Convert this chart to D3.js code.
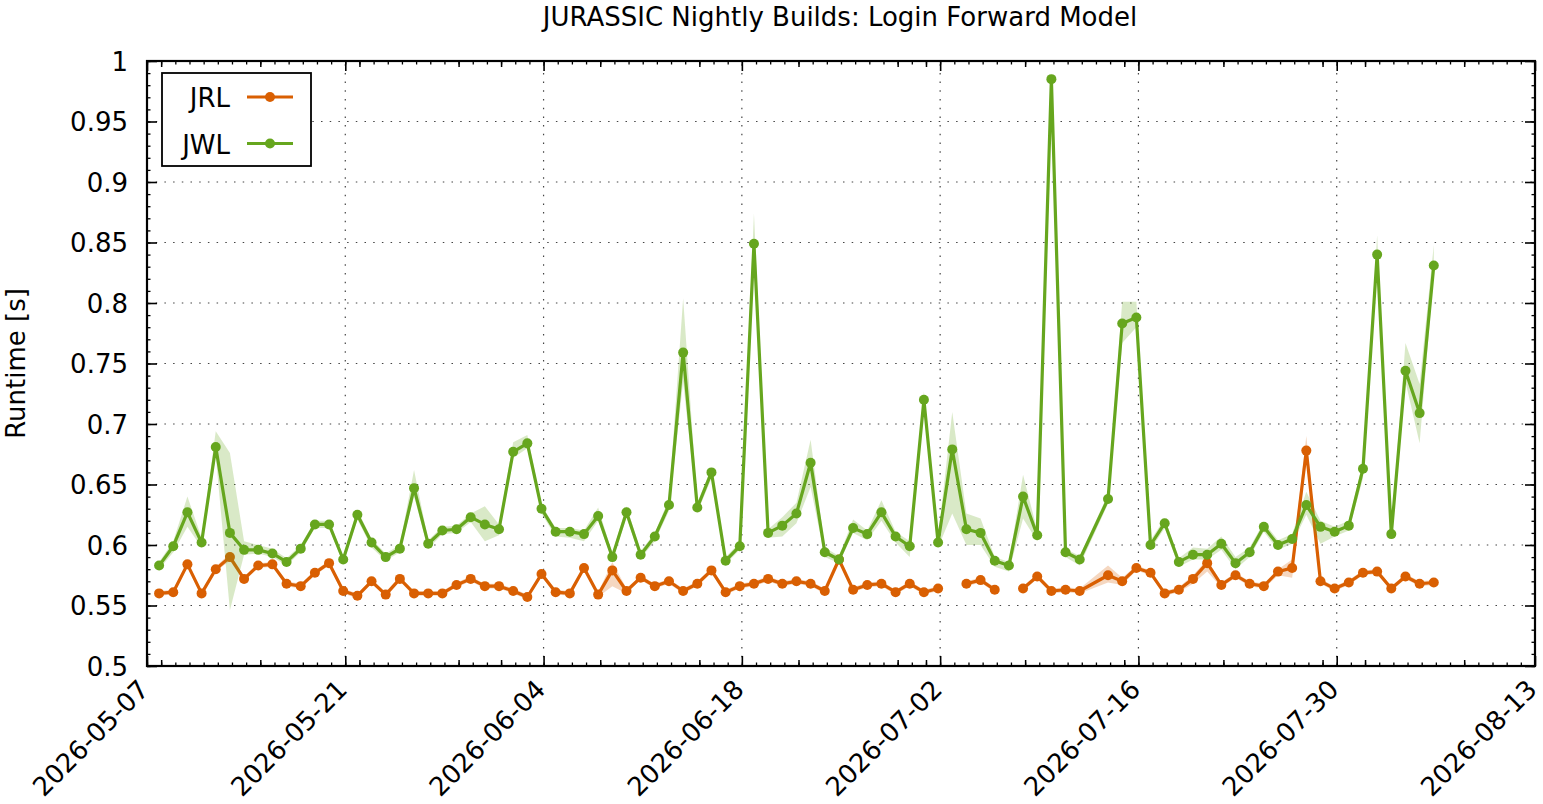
<!DOCTYPE html>
<html>
<head>
<meta charset="utf-8">
<script src="https://cdn.jsdelivr.net/npm/d3@7"></script>
<style>
  body { margin: 0; background: #fff; }
  svg text { font-family: "DejaVu Sans", sans-serif; fill: #000; }
</style>
</head>
<body>
<div class="chart-area"></div>
<script>
// JURASSIC nightly builds chart (gnuplot style)

// Build dates (one run per night, 2026-07-12 missing)
const dates = [
  "2026-05-07","2026-05-08","2026-05-09","2026-05-10","2026-05-11","2026-05-12","2026-05-13","2026-05-14",
  "2026-05-15","2026-05-16","2026-05-17","2026-05-18","2026-05-19","2026-05-20","2026-05-21","2026-05-22",
  "2026-05-23","2026-05-24","2026-05-25","2026-05-26","2026-05-27","2026-05-28","2026-05-29","2026-05-30",
  "2026-05-31","2026-06-01","2026-06-02","2026-06-03","2026-06-04","2026-06-05","2026-06-06","2026-06-07",
  "2026-06-08","2026-06-09","2026-06-10","2026-06-11","2026-06-12","2026-06-13","2026-06-14","2026-06-15",
  "2026-06-16","2026-06-17","2026-06-18","2026-06-19","2026-06-20","2026-06-21","2026-06-22","2026-06-23",
  "2026-06-24","2026-06-25","2026-06-26","2026-06-27","2026-06-28","2026-06-29","2026-06-30","2026-07-01",
  "2026-07-02","2026-07-03","2026-07-04","2026-07-05","2026-07-06","2026-07-07","2026-07-08","2026-07-09",
  "2026-07-10","2026-07-11","2026-07-13","2026-07-14","2026-07-15","2026-07-16","2026-07-17","2026-07-18",
  "2026-07-19","2026-07-20","2026-07-21","2026-07-22","2026-07-23","2026-07-24","2026-07-25","2026-07-26",
  "2026-07-27","2026-07-28","2026-07-29","2026-07-30","2026-07-31","2026-08-01","2026-08-02","2026-08-03",
  "2026-08-04","2026-08-05"
];
const runTime = "20:30";

// JRL runtime [s] (null = failed run)
const jrl = [
  0.560,0.561,0.584,0.560,0.580,0.590,0.572,0.583,0.584,0.568,0.566,0.577,0.585,0.562,0.558,0.570,
  0.559,0.572,0.560,0.560,0.560,0.567,0.572,0.566,0.566,0.562,0.557,0.576,0.561,0.560,0.581,0.559,
  0.579,0.562,0.573,0.566,0.570,0.562,0.568,0.579,0.561,0.566,0.568,0.572,0.568,0.570,0.568,0.562,
  0.588,0.563,0.567,0.568,0.561,0.568,0.561,0.564,null,0.568,0.571,0.563,null,0.564,0.574,0.562,
  0.563,0.562,0.575,0.570,0.581,0.577,0.560,0.563,0.572,0.585,0.567,0.575,0.568,0.566,0.578,0.581,
  0.678,0.570,0.564,0.569,0.577,0.578,0.564,0.574,0.568,0.569
];
const jrlLo = [
  0.558,0.559,0.582,0.558,0.578,0.587,0.570,0.581,0.582,0.566,0.564,0.575,0.583,0.560,0.556,0.568,
  0.557,0.570,0.558,0.558,0.558,0.565,0.570,0.564,0.564,0.560,0.555,0.574,0.559,0.558,0.579,0.557,
  0.566,0.560,0.571,0.564,0.568,0.560,0.566,0.577,0.559,0.564,0.566,0.570,0.566,0.568,0.566,0.560,
  0.586,0.561,0.565,0.566,0.559,0.566,0.559,0.562,null,0.566,0.569,0.561,null,0.562,0.572,0.560,
  0.561,0.560,0.569,0.567,0.579,0.575,0.558,0.561,0.568,0.578,0.565,0.573,0.566,0.564,0.575,0.573,
  0.670,0.568,0.562,0.567,0.575,0.576,0.562,0.572,0.566,0.567
];
const jrlHi = [
  0.562,0.563,0.586,0.562,0.582,0.593,0.574,0.585,0.586,0.570,0.568,0.579,0.587,0.564,0.560,0.572,
  0.561,0.574,0.562,0.562,0.562,0.569,0.574,0.568,0.568,0.564,0.559,0.578,0.563,0.562,0.583,0.561,
  0.586,0.564,0.575,0.568,0.572,0.564,0.570,0.581,0.563,0.568,0.570,0.574,0.570,0.572,0.570,0.564,
  0.590,0.565,0.569,0.570,0.563,0.570,0.563,0.566,null,0.570,0.573,0.565,null,0.566,0.576,0.564,
  0.565,0.564,0.583,0.573,0.583,0.579,0.562,0.565,0.575,0.588,0.569,0.577,0.570,0.568,0.580,0.588,
  0.690,0.572,0.566,0.571,0.579,0.580,0.566,0.576,0.570,0.571
];

// JWL runtime [s]
const jwl = [
  0.583,0.599,0.627,0.602,0.681,0.610,0.596,0.596,0.593,0.586,0.597,0.617,0.617,0.588,0.625,0.602,
  0.590,0.597,0.647,0.601,0.612,0.613,0.623,0.617,0.613,0.677,0.684,0.630,0.611,0.611,0.609,0.624,
  0.590,0.627,0.592,0.607,0.633,0.759,0.631,0.660,0.587,0.599,0.849,0.610,0.616,0.626,0.668,0.594,
  0.588,0.614,0.609,0.627,0.607,0.599,0.720,0.602,0.679,0.613,0.610,0.587,0.583,0.640,0.608,0.985,
  0.594,0.588,0.638,0.783,0.788,0.600,0.618,0.586,0.592,0.592,0.601,0.585,0.594,0.615,0.600,0.605,
  0.633,0.615,0.611,0.616,0.663,0.840,0.609,0.744,0.709,0.831
];
const jwlLo = [
  0.580,0.594,0.615,0.598,0.674,0.546,0.592,0.593,0.590,0.583,0.594,0.614,0.614,0.585,0.621,0.598,
  0.587,0.594,0.640,0.597,0.609,0.610,0.619,0.603,0.608,0.672,0.680,0.626,0.607,0.606,0.603,0.620,
  0.587,0.623,0.589,0.603,0.628,0.735,0.627,0.655,0.584,0.596,0.835,0.606,0.607,0.618,0.648,0.590,
  0.585,0.610,0.604,0.620,0.602,0.590,0.714,0.598,0.626,0.600,0.600,0.582,0.578,0.622,0.603,0.970,
  0.590,0.583,0.634,0.767,0.780,0.596,0.614,0.582,0.588,0.588,0.596,0.580,0.590,0.611,0.596,0.601,
  0.625,0.601,0.607,0.612,0.655,0.835,0.605,0.735,0.684,0.825
];
const jwlHi = [
  0.586,0.603,0.640,0.606,0.694,0.676,0.603,0.600,0.597,0.589,0.600,0.620,0.620,0.591,0.629,0.605,
  0.593,0.600,0.662,0.604,0.615,0.616,0.626,0.632,0.617,0.685,0.691,0.633,0.614,0.614,0.612,0.631,
  0.593,0.632,0.595,0.610,0.638,0.804,0.635,0.664,0.590,0.602,0.874,0.613,0.623,0.635,0.687,0.598,
  0.591,0.621,0.612,0.637,0.611,0.603,0.727,0.606,0.710,0.626,0.622,0.590,0.586,0.658,0.612,0.990,
  0.597,0.591,0.642,0.801,0.801,0.604,0.622,0.589,0.598,0.597,0.607,0.590,0.598,0.619,0.604,0.609,
  0.644,0.620,0.615,0.620,0.668,0.856,0.613,0.767,0.733,0.848
];

// Axis ticks
const xTickLabels = ["2026-05-07","2026-05-21","2026-06-04","2026-06-18","2026-07-02","2026-07-16","2026-07-30","2026-08-13"];
const yTickValues = [0.5,0.55,0.6,0.65,0.7,0.75,0.8,0.85,0.9,0.95,1];

const seriesNames = ["JRL", "JWL"];
const colors = { JRL: "#d95f02", JWL: "#66a61e" };

// Layout
const W = 1543, H = 804;
const plot = { left: 147, right: 1535, top: 61, bottom: 666 };

const svg = d3.select(".chart-area")
    .append("svg")
    .attr("width", W)
    .attr("height", H);

const parseDay = d3.timeParse("%Y-%m-%d");
const parseRun = d3.timeParse("%Y-%m-%d %H:%M");

const x = d3.scaleTime()
    .domain([parseDay(xTickLabels[0]), parseDay(xTickLabels[xTickLabels.length - 1])])
    .range([plot.left, plot.right]);
const y = d3.scaleLinear()
    .domain([0.5, 1])
    .range([plot.bottom, plot.top]);

// Grid (dotted)
const gridStyle = g => g.attr("stroke", "#444").attr("stroke-width", 1.2).attr("stroke-dasharray", "1.5,7.2");
const grid = svg.append("g");
xTickLabels.slice(1, -1).forEach(s => {
    grid.append("line")
        .attr("x1", x(parseDay(s))).attr("x2", x(parseDay(s)))
        .attr("y1", plot.bottom).attr("y2", plot.top)
        .call(gridStyle);
});
yTickValues.slice(1, -1).forEach(v => {
    grid.append("line")
        .attr("x1", plot.left).attr("x2", plot.right)
        .attr("y1", y(v)).attr("y2", y(v))
        .call(gridStyle);
});

// Build records per series
const rows = dates.map(d => parseRun(d + " " + runTime));
const series = {
    JRL: rows.map((t, i) => ({ t, v: jrl[i], lo: jrlLo[i], hi: jrlHi[i] })),
    JWL: rows.map((t, i) => ({ t, v: jwl[i], lo: jwlLo[i], hi: jwlHi[i] }))
};

const area = d3.area()
    .defined(d => d.v != null)
    .x(d => x(d.t))
    .y0(d => y(d.lo))
    .y1(d => y(d.hi));
const line = d3.line()
    .defined(d => d.v != null)
    .x(d => x(d.t))
    .y(d => y(d.v));

seriesNames.forEach(name => {
    const data = series[name];
    const g = svg.append("g");
    g.append("path")
        .datum(data)
        .attr("d", area)
        .attr("fill", colors[name])
        .attr("fill-opacity", 0.25);
    g.append("path")
        .datum(data)
        .attr("d", line)
        .attr("fill", "none")
        .attr("stroke", colors[name])
        .attr("stroke-width", 3.2)
        .attr("stroke-linejoin", "round");
    g.selectAll("circle")
        .data(data.filter(d => d.v != null))
        .enter()
        .append("circle")
        .attr("cx", d => x(d.t))
        .attr("cy", d => y(d.v))
        .attr("r", 5)
        .attr("fill", colors[name]);
});

// Axes with inward ticks on all four sides
const xMinor = d3.timeDay.range(x.domain()[0], x.domain()[1]);
const xMid = d3.timeDay.every(7).range(x.domain()[0], x.domain()[1]);
const yMinor = d3.range(50, 101).map(v => v / 100);

function drawAxis(axis, transform, major, mid, minor, labels) {
    const g = svg.append("g").attr("transform", transform);
    g.call(axis.tickValues(minor).tickSize(-3.5).tickFormat(""));
    g.select(".domain").remove();
    g.selectAll("line").attr("stroke", "#000").attr("stroke-width", 1.3);
    if (mid) {
        const gm = svg.append("g").attr("transform", transform);
        gm.call(axis.tickValues(mid).tickSize(-6).tickFormat(""));
        gm.select(".domain").remove();
        gm.selectAll("line").attr("stroke", "#000").attr("stroke-width", 1.5);
    }
    const gM = svg.append("g").attr("transform", transform);
    gM.call(axis.tickValues(major).tickSize(-10).tickFormat(labels || ""));
    gM.select(".domain").remove();
    gM.selectAll("line").attr("stroke", "#000").attr("stroke-width", 1.6);
    return gM;
}

const xMajor = xTickLabels.map(parseDay);
const bottomAx = drawAxis(d3.axisBottom(x), `translate(0,${plot.bottom})`, xMajor, xMid, xMinor, d3.timeFormat("%Y-%m-%d"));
drawAxis(d3.axisTop(x), `translate(0,${plot.top})`, xMajor, xMid, xMinor, null);
const leftAx = drawAxis(d3.axisLeft(y), `translate(${plot.left},0)`, yTickValues, null, yMinor, d3.format("~g"));
drawAxis(d3.axisRight(y), `translate(${plot.right},0)`, yTickValues, null, yMinor, null);

// Tick label styling
bottomAx.selectAll("text")
    .attr("font-size", 26)
    .attr("text-anchor", "end")
    .attr("y", 0).attr("dy", 0)
    .attr("transform", "translate(3,25) rotate(-45)");
leftAx.selectAll("text")
    .attr("font-size", 26)
    .attr("x", -19)
    .attr("dy", "0.35em");
svg.selectAll(".tick text").attr("font-family", "DejaVu Sans, sans-serif").attr("fill", "#000");

// Frame
svg.append("rect")
    .attr("x", plot.left).attr("y", plot.top)
    .attr("width", plot.right - plot.left)
    .attr("height", plot.bottom - plot.top)
    .attr("fill", "none")
    .attr("stroke", "#000")
    .attr("stroke-width", 2.2);

// Title and axis label
svg.append("text")
    .attr("x", (plot.left + plot.right) / 2 - 1)
    .attr("y", 26)
    .attr("text-anchor", "middle")
    .attr("font-size", 26)
    .text("JURASSIC Nightly Builds: Login Forward Model");

svg.append("text")
    .attr("transform", `translate(25,${(plot.top + plot.bottom) / 2}) rotate(-90)`)
    .attr("text-anchor", "middle")
    .attr("font-size", 26)
    .text("Runtime [s]");

// Legend
const legend = svg.append("g");
legend.append("rect")
    .attr("x", 162).attr("y", 73)
    .attr("width", 149).attr("height", 93)
    .attr("fill", "#fff")
    .attr("stroke", "#000")
    .attr("stroke-width", 1.8);
seriesNames.forEach((name, i) => {
    const ly = 97 + i * 46.5;
    legend.append("text")
        .attr("x", 230).attr("y", ly + 10)
        .attr("text-anchor", "end")
        .attr("font-size", 26)
        .text(name);
    legend.append("line")
        .attr("x1", 247).attr("x2", 293)
        .attr("y1", ly).attr("y2", ly)
        .attr("stroke", colors[name])
        .attr("stroke-width", 3.2);
    legend.append("circle")
        .attr("cx", 270).attr("cy", ly)
        .attr("r", 5)
        .attr("fill", colors[name]);
});
</script>
</body>
</html>
